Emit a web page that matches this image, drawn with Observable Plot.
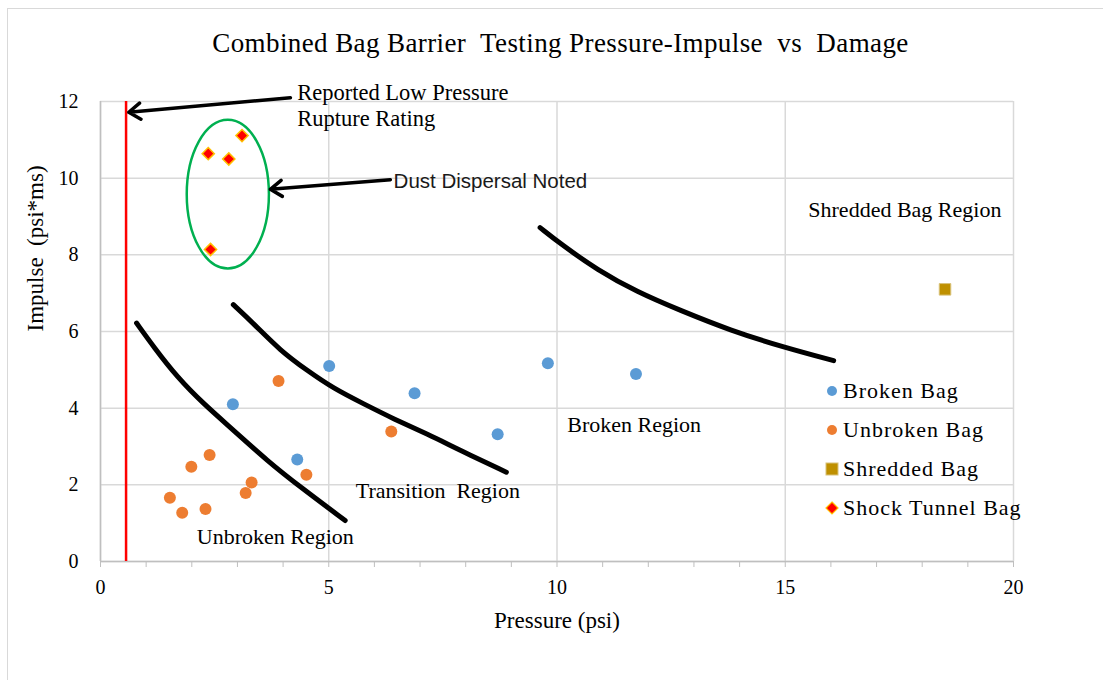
<!DOCTYPE html>
<html><head><meta charset="utf-8">
<script src="https://cdn.jsdelivr.net/npm/d3@7"></script>
<script src="https://cdn.jsdelivr.net/npm/@observablehq/plot@0.6"></script>
<style>
body{margin:0;background:#fff;width:1103px;height:680px;overflow:hidden;position:relative;font-family:"Liberation Serif",serif;}
#frame{position:absolute;left:7px;top:8px;width:1200px;height:700px;border:1px solid #d9d9d9;pointer-events:none;}
#title{height:70px;box-sizing:border-box;padding-top:28px;padding-left:18px;text-align:center;font-size:27px;letter-spacing:0.4px;line-height:30px;color:#000;white-space:pre;}
#chart{position:relative;}
#legend{position:absolute;left:824px;top:301px;font-size:22px;letter-spacing:1px;color:#000;}
#legend .row{display:flex;align-items:center;height:39px;}
#legend svg{margin-right:3px;}
</style></head>
<body>
<div id="frame"></div>
<div id="title">Combined Bag Barrier  Testing Pressure-Impulse  vs  Damage</div>
<div id="chart"><div id="legend"></div></div>
<script>
// ---- data ----
const seriesNames = ["Broken Bag", "Unbroken Bag", "Shredded Bag", "Shock Tunnel Bag"];
const brokenP = [2.90, 4.31, 5.01, 6.88, 8.70, 9.80, 11.73];
const brokenI = [4.10, 2.66, 5.10, 4.39, 3.32, 5.17, 4.89];
const unbrokenP = [1.52, 1.79, 1.99, 2.39, 2.30, 3.18, 3.31, 3.90, 4.51, 6.37];
const unbrokenI = [1.66, 1.27, 2.47, 2.78, 1.37, 1.79, 2.06, 4.71, 2.26, 3.39];
const shreddedP = [18.5];
const shreddedI = [7.1];
const shockP = [3.10, 2.36, 2.81, 2.41];
const shockI = [11.11, 10.64, 10.50, 8.14];

// boundary curves
const curve1P = [0.79, 1.17, 1.68, 2.26, 2.92, 3.65, 4.38, 5.36];
const curve1I = [6.22, 5.59, 4.81, 4.11, 3.42, 2.63, 1.94, 1.07];
const curve2P = [2.91, 3.36, 3.94, 4.53, 5.11, 5.77, 6.42, 7.15, 7.88, 8.89];
const curve2I = [6.70, 6.20, 5.50, 4.98, 4.51, 4.11, 3.72, 3.33, 2.90, 2.33];
const curve3P = [9.63, 10.14, 10.87, 11.75, 12.70, 13.79, 14.96, 16.06];
const curve3I = [8.71, 8.23, 7.62, 7.03, 6.55, 6.03, 5.59, 5.24];

// rupture rating line
const ruptureP = 0.56;
const ruptureRange = [0, 12];

// dust ellipse [centerP, centerI, radiusP, radiusI]
const ellipseSpec = [2.80, 9.57, 0.90, 1.94];

// annotation arrows
const arrowFromP = [4.16, 6.35];
const arrowFromI = [12.10, 9.96];
const arrowToP = [0.62, 3.72];
const arrowToI = [11.72, 9.71];

// annotation texts
const serifLabels = ["Shredded Bag Region", "Broken Region", "Transition  Region", "Unbroken Region"];
const serifLabelP = [17.62, 11.69, 7.39, 3.83];
const serifLabelI = [9.16, 3.57, 1.83, 0.63];
const ratingLabel = "Reported Low Pressure\nRupture Rating";
const ratingLabelP = 4.31, ratingLabelI = 11.92;
const dustLabel = "Dust Dispersal Noted";
const dustLabelP = 6.42, dustLabelI = 9.91;
const xLabel = "Pressure (psi)";
const yLabel = "Impulse  (psi*ms)";

const xTicks = [0, 5, 10, 15, 20];
const xMinorTicks = [0,1,2,3,4,5,6,7,8,9,10,11,12,13,14,15,16,17,18,19,20];
const yTicks = [0, 2, 4, 6, 8, 10, 12];

// ---- build tables ----
const zip = (px, iy) => px.map((p, k) => ({p, i: iy[k]}));
const broken = zip(brokenP, brokenI);
const unbroken = zip(unbrokenP, unbrokenI);
const shredded = zip(shreddedP, shreddedI);
const shock = zip(shockP, shockI);
const curves = [
  ...zip(curve1P, curve1I).map(d => ({...d, c: 1})),
  ...zip(curve2P, curve2I).map(d => ({...d, c: 2})),
  ...zip(curve3P, curve3I).map(d => ({...d, c: 3}))
];
const arrows = arrowFromP.map((p, k) => ({p1: p, i1: arrowFromI[k], p2: arrowToP[k], i2: arrowToI[k]}));
const serifTexts = serifLabels.map((t, k) => ({t, p: serifLabelP[k], i: serifLabelI[k]}));

const colors = {broken: "#5B9BD5", unbroken: "#ED7D31", shredded: "#BF9000", shock: "#FF0000"};

const ellipseMark = (index, scales) => {
  const sx = typeof scales.x === "function" ? scales.x : scales.scales.x.apply;
  const sy = typeof scales.y === "function" ? scales.y : scales.scales.y.apply;
  const [cp, ci, rp, ri] = ellipseSpec;
  const e = d3.create("svg:ellipse")
    .attr("cx", sx(cp)).attr("cy", sy(ci))
    .attr("rx", Math.abs(sx(cp + rp) - sx(cp)))
    .attr("ry", Math.abs(sy(ci + ri) - sy(ci)))
    .attr("fill", "none").attr("stroke", "#00B050").attr("stroke-width", 2.5);
  return e.node();
};

const chart = Plot.plot({
  width: 1103, height: 576,
  marginLeft: 100, marginRight: 90, marginTop: 31, marginBottom: 85,
  x: {domain: [0, 20]},
  y: {domain: [0, 12]},
  style: {fontFamily: "Liberation Serif", fontSize: "20px", color: "#000", background: "transparent", overflow: "visible"},
  marks: [
    Plot.gridX(xTicks, {stroke: "#d9d9d9", strokeOpacity: 1, strokeWidth: 1.5}),
    Plot.gridY(yTicks, {stroke: "#d9d9d9", strokeOpacity: 1, strokeWidth: 1.5}),
    Plot.ruleY([0], {stroke: "#bfbfbf", strokeWidth: 1.5}),
    Plot.ruleX([0], {stroke: "#bfbfbf", strokeWidth: 1.5}),
    Plot.axisX(xMinorTicks, {tickSize: 6, stroke: "#bfbfbf", tickFormat: () => "", label: null}),
    Plot.axisX(xTicks, {tickSize: 0, tickPadding: 18, label: null, fontSize: 20}),
    Plot.axisY(yTicks, {tickSize: 0, tickPadding: 22, label: null, fontSize: 20}),
    Plot.text([xLabel], {frameAnchor: "bottom", dy: 66, text: d => d, fontSize: 23, fill: "#000"}),
    Plot.text([yLabel], {frameAnchor: "left", dx: -65, rotate: -90, text: d => d, fontSize: 23, fill: "#000"}),
    Plot.ruleX([ruptureP], {y1: ruptureRange[0], y2: ruptureRange[1], stroke: "#FF0000", strokeWidth: 2.5}),
    Plot.line(curves, {x: "p", y: "i", z: "c", stroke: "#000", strokeWidth: 5, curve: "basis"}),
    ellipseMark,
    Plot.arrow(arrows, {x1: "p1", y1: "i1", x2: "p2", y2: "i2", stroke: "#000", strokeWidth: 3.5, headLength: 6, headAngle: 70, inset: 0}),
    Plot.dot(broken, {x: "p", y: "i", r: 6, fill: colors.broken, stroke: "none"}),
    Plot.dot(unbroken, {x: "p", y: "i", r: 6, fill: colors.unbroken, stroke: "none"}),
    Plot.dot(shredded, {x: "p", y: "i", r: 6.5, symbol: "square", fill: colors.shredded, stroke: "#d8c27a", strokeWidth: 1}),
    Plot.dot(shock, {x: "p", y: "i", r: 5.5, symbol: "diamond2", fill: colors.shock, stroke: "#FFC000", strokeWidth: 1.5}),
    Plot.text(serifTexts, {x: "p", y: "i", text: "t", fontSize: 22, fill: "#000", fontFamily: "Liberation Serif"}),
    Plot.text([ratingLabel], {x: ratingLabelP, y: ratingLabelI, text: d => d, textAnchor: "start", fontSize: 22.5, lineHeight: 1.17, fill: "#000", fontFamily: "Liberation Serif"}),
    Plot.text([dustLabel], {x: dustLabelP, y: dustLabelI, text: d => d, textAnchor: "start", fontSize: 20.5, fill: "#1a1a1a", fontFamily: "Liberation Sans"})
  ]
});
document.getElementById("chart").prepend(chart);

// legend
const markerSvg = k => {
  const c = [colors.broken, colors.unbroken, colors.shredded, colors.shock][k];
  if (k < 2) return `<svg width="16" height="16"><circle cx="8" cy="8" r="5" fill="${c}"/></svg>`;
  if (k === 2) return `<svg width="16" height="16"><rect x="2" y="2" width="12" height="12" fill="${c}" stroke="#d8c27a"/></svg>`;
  return `<svg width="16" height="16"><path d="M8 2L14 8L8 14L2 8Z" fill="${c}" stroke="#FFC000" stroke-width="1.2"/></svg>`;
};
document.getElementById("legend").innerHTML = seriesNames.map((n, k) =>
  `<div class="row">${markerSvg(k)}<span>${n}</span></div>`).join("");
</script>
</body></html>
